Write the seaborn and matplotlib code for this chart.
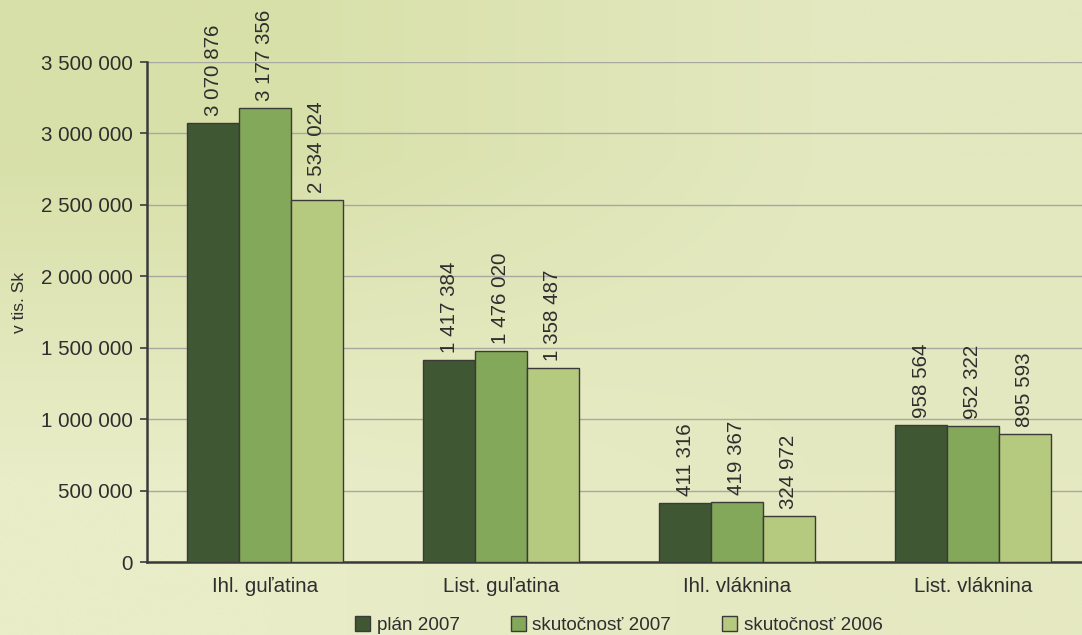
import numpy as np
import pandas as pd
import matplotlib.pyplot as plt
import matplotlib.colors as mcolors
import seaborn as sns

kategorie = ["Ihl. guľatina", "List. guľatina", "Ihl. vláknina", "List. vláknina"]
plan_2007 = [3070876, 1417384, 411316, 958564]
skut_2007 = [3177356, 1476020, 419367, 952322]
skut_2006 = [2534024, 1358487, 324972, 895593]
serie = ["plán 2007", "skutočnosť 2007", "skutočnosť 2006"]
farby = ["#3f5733", "#84a85a", "#b5c97f"]
y_ticky = [0, 500000, 1000000, 1500000, 2000000, 2500000, 3000000, 3500000]


def formatuj(v):
    return f"{int(v):,}".replace(",", " ")


df = pd.DataFrame({
    "Kategoria": kategorie * 3,
    "Hodnota": plan_2007 + skut_2007 + skut_2006,
    "Seria": [s for s in serie for _ in kategorie],
})

sns.set_theme(style="white")
plt.rcParams["font.family"] = ["Liberation Sans", "DejaVu Sans"]

fig = plt.figure(figsize=(10.82, 6.35), dpi=100)
fig.patch.set_facecolor("#e6eac3")

# jemny prechod pozadia (zelenkasty papier)
pozadie = fig.add_axes([0, 0, 1, 1], zorder=-5)
rohy = np.array([[mcolors.to_rgb("#d8e0a9"), mcolors.to_rgb("#e3e8bf")],
                 [mcolors.to_rgb("#e9edc8"), mcolors.to_rgb("#e5e9c1")]])
pozadie.imshow(rohy, aspect="auto", interpolation="bilinear", extent=[0, 1, 0, 1])
pozadie.axis("off")

ax = fig.add_axes([147 / 1082, 73 / 635, 944 / 1082, 500 / 635])
ax.set_facecolor("none")

sns.barplot(data=df, x="Kategoria", y="Hodnota", hue="Seria",
            order=kategorie, hue_order=serie, palette=farby,
            width=0.66, gap=0, edgecolor="#3a3a3a", linewidth=1,
            saturation=1, ax=ax, legend=True, zorder=3)

for kont in ax.containers:
    ax.bar_label(kont, labels=[formatuj(b.get_height()) for b in kont],
                 rotation=90, padding=5, fontsize=14.8, color="#2e2e2e")

ax.set_xlim(-0.5, 3.5)
ax.set_ylim(0, 3500000)
ax.set_yticks(y_ticky)
ax.set_yticklabels([formatuj(v) for v in y_ticky], fontsize=14.8, color="#2e2e2e")
ax.tick_params(axis="x", labelsize=14.8, labelcolor="#2e2e2e", length=0, pad=11)
ax.set_xticks([-0.5, 0.5, 1.5, 2.5, 3.5], minor=True)
ax.tick_params(axis="x", which="minor", length=5, width=1.5, color="#3a3a3a", direction="out")
ax.tick_params(axis="y", length=5, width=1.2, color="#3a3a3a", direction="out", left=True, pad=5)
ax.yaxis.grid(True, color="#a8a8a0", linewidth=1)
ax.set_axisbelow(True)

ax.set_xlabel("")
ax.set_ylabel("v tis. Sk", fontsize=12.5, color="#2e2e2e")
ax.yaxis.set_label_coords(-0.127, 0.52)

for s in ["top", "right"]:
    ax.spines[s].set_visible(False)
for s in ["left", "bottom"]:
    ax.spines[s].set_color("#3a3a3a")
    ax.spines[s].set_linewidth(1.8)

handles, labels = ax.get_legend_handles_labels()
ax.get_legend().remove()
fig.legend(handles, labels, loc="lower center", bbox_to_anchor=(0.572, -0.025),
           ncol=3, frameon=False, fontsize=13.6, handlelength=0.8, handleheight=0.85,
           handletextpad=0.35, columnspacing=2.7, labelcolor="#2e2e2e")

fig.savefig("out.png", dpi=100, facecolor=fig.get_facecolor())
